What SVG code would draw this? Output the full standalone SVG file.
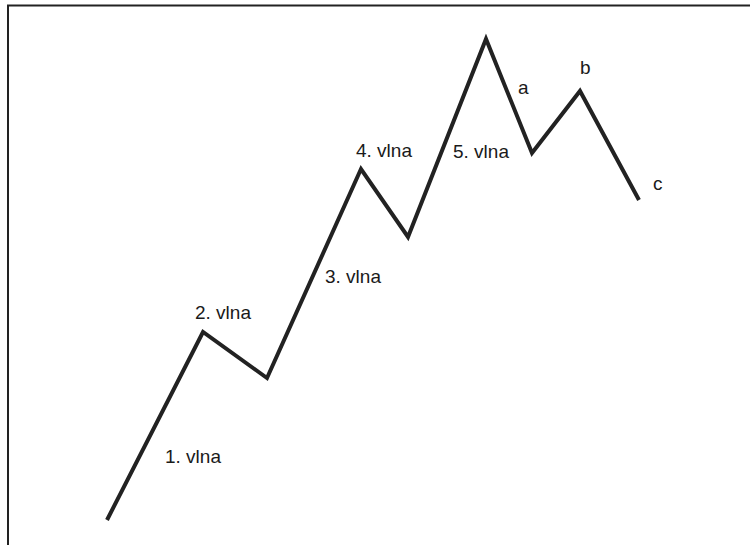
<svg xmlns="http://www.w3.org/2000/svg" width="750" height="545" viewBox="0 0 750 545">
<style>
.t{font-family:"Liberation Sans",Arial,sans-serif;font-size:19px;fill:#1a1a1a}
.w{fill:none;stroke:#222;stroke-width:4;stroke-linejoin:miter;stroke-linecap:butt}
</style>
<rect width="750" height="545" fill="#fff"/>
<path d="M8,545 V5.5 H750" fill="none" stroke="#222" stroke-width="2"/>
<g id="connectors">
<polyline class="w" points="107,520 203,332 267,378 361,169 408,237 486,39 532,153 580,91 639,200"/>
</g>
<g id="labels">
<g id="w1"><text class="t" x="165" y="463">1. vlna</text></g>
<g id="w2"><text class="t" x="195" y="319">2. vlna</text></g>
<g id="w3"><text class="t" x="325" y="283">3. vlna</text></g>
<g id="w4"><text class="t" x="356" y="157">4. vlna</text></g>
<g id="w5"><text class="t" x="453" y="158">5. vlna</text></g>
<g id="wa"><text class="t" x="518" y="94">a</text></g>
<g id="wb"><text class="t" x="580" y="74">b</text></g>
<g id="wc"><text class="t" x="653" y="190">c</text></g>
</g>
</svg>
